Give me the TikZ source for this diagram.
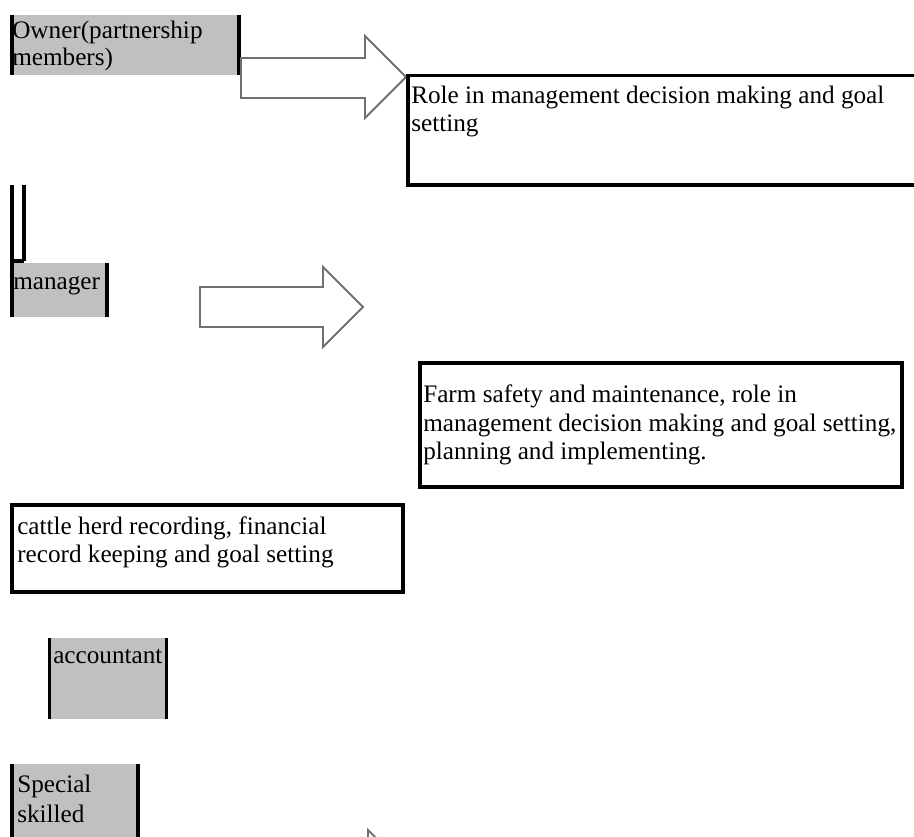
\documentclass[tikz,border=0pt]{standalone}
\usepackage{fontspec}
\setmainfont{Liberation Serif}
\definecolor{boxgray}{RGB}{192,192,192}
\definecolor{arrowgray}{RGB}{112,112,112}
\begin{document}
\begin{tikzpicture}[x=0.75pt,y=-0.75pt,
  txt/.style={anchor=base west,inner sep=0pt,font=\fontsize{18.9pt}{21pt}\selectfont},
  sideline/.style={line width=2.3pt,draw=black},
  framebox/.style={draw=black,line width=2.3pt},
  blockarrow/.style={draw=arrowgray,line width=1.4pt,fill=white,line join=miter}]
\useasboundingbox (0,0) rectangle (914,837);
\clip (0,0) rectangle (914,837);

% Owner box
\fill[boxgray] (11,15) rectangle (240,75);
\draw[sideline] (12,15) -- (12,75) (239,15) -- (239,75);
\node[txt] (owner1) at (12,38.5) {Owner(partnership};
\node[txt] (owner2) at (12,65.5) {members)};

% Arrow 1
\draw[blockarrow] (241,58) -- (365,58) -- (365,36) -- (406,77) -- (365,118) -- (365,98) -- (241,98) -- cycle;

% Role box
\draw[framebox] (408,75.5) rectangle (930,185);
\node[txt] (role1) at (411,104) {Role in management decision making and goal};
\node[txt] (role2) at (411,132) {setting};

% Empty narrow frame above manager
\draw[sideline] (12,185) -- (12,263) (24,185) -- (24,261) (12,261) -- (24,261);

% Manager box
\fill[boxgray] (11,263) rectangle (108,317);
\draw[sideline] (12,263) -- (12,317) (107,263) -- (107,317);
\node[txt] (manager) at (13,290) {manager};

% Arrow 2
\draw[blockarrow] (200,287) -- (323,287) -- (323,267) -- (363,307) -- (323,347) -- (323,327) -- (200,327) -- cycle;

% Farm box
\draw[framebox] (420,363) rectangle (902,487);
\node[txt] (farm1) at (423,403) {Farm safety and maintenance, role in};
\node[txt] (farm2) at (423,432) {management decision making and goal setting,};
\node[txt] (farm3) at (423,460) {planning and implementing.};

% Cattle box
\draw[framebox] (12,505) rectangle (403,592);
\node[txt] (cattle1) at (17,535) {cattle herd recording, financial};
\node[txt] (cattle2) at (17,563) {record keeping and goal setting};

% Accountant box
\fill[boxgray] (48,638) rectangle (168,719);
\draw[sideline] (49.5,638) -- (49.5,719) (166.5,638) -- (166.5,719);
\node[txt] (accountant) at (53,663) {accountant};

% Special skilled box
\fill[boxgray] (11,764) rectangle (139,845);
\draw[sideline] (12,764) -- (12,845) (138,764) -- (138,845);
\node[txt] (special1) at (17,792) {Special};
\node[txt] (special2) at (17,822) {skilled};

% Arrow 3 (cut off at bottom)
\draw[blockarrow] (245,850) -- (368,850) -- (368,830) -- (408,870) -- (368,910) -- (368,890) -- (245,890) -- cycle;
\end{tikzpicture}
\end{document}
